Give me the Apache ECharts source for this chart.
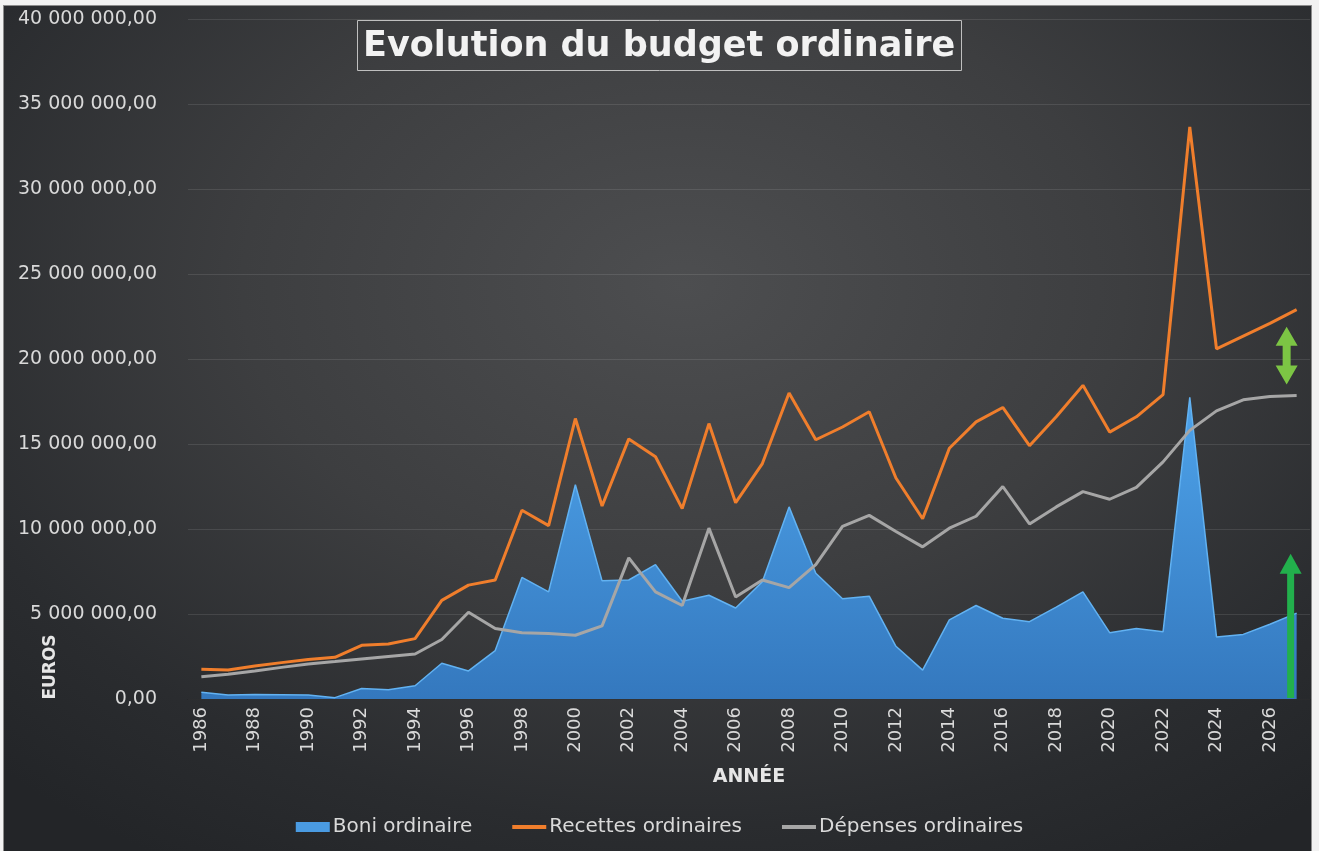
<!DOCTYPE html>
<html>
<head>
<meta charset="utf-8">
<title>Evolution du budget ordinaire</title>
<script src="https://cdn.jsdelivr.net/npm/echarts@6/dist/echarts.min.js"></script>
<style>
  html, body { margin: 0; padding: 0; background: #f2f2f2; }
  .frame {
    position: absolute; left: 3px; top: 5px; width: 1307px; height: 846px;
    border: 1px solid #8c8c8c; border-bottom: none;
    background: radial-gradient(ellipse 75% 80% at 52% 33%, #4d4e50 0%, #3d3e40 45%, #2a2c2f 80%, #232528 100%);
  }
  #chart { position: absolute; left: 0; top: 0; width: 1319px; height: 851px; }
</style>
</head>
<body>
<div class="frame"></div>
<div id="chart"></div>
<script>
// années (catégories)
const annees = ['1986', '1987', '1988', '1989', '1990', '1991', '1992', '1993', '1994', '1995',
  '1996', '1997', '1998', '1999', '2000', '2001', '2002', '2003', '2004', '2005',
  '2006', '2007', '2008', '2009', '2010', '2011', '2012', '2013', '2014', '2015',
  '2016', '2017', '2018', '2019', '2020', '2021', '2022', '2023', '2024', '2025',
  '2026', '2027']

// boni ordinaire (EUR)
const boni = [400000, 240000, 260000, 250000, 240000, 80000, 620000, 550000, 780000, 2100000,
  1650000, 2850000, 7150000, 6300000, 12600000, 6950000, 7000000, 7900000, 5750000, 6100000,
  5350000, 6900000, 11300000, 7400000, 5900000, 6050000, 3100000, 1700000, 4650000, 5500000,
  4750000, 4550000, 5400000, 6300000, 3900000, 4150000, 3950000, 17750000, 3650000, 3800000,
  4400000, 5050000]

// recettes ordinaires (EUR)
const recettes = [1750000, 1700000, 1940000, 2140000, 2330000, 2450000, 3160000, 3240000, 3550000, 5800000,
  6700000, 7000000, 11100000, 10200000, 16500000, 11350000, 15300000, 14250000, 11200000, 16200000,
  11550000, 13850000, 18000000, 15250000, 16000000, 16900000, 13000000, 10600000, 14750000, 16300000,
  17150000, 14900000, 16600000, 18450000, 15700000, 16600000, 17900000, 33650000, 20600000, 21350000,
  22100000, 22900000]

// dépenses ordinaires (EUR)
const depenses = [1310000, 1450000, 1650000, 1860000, 2060000, 2200000, 2350000, 2500000, 2650000, 3500000,
  5100000, 4150000, 3900000, 3850000, 3750000, 4300000, 8300000, 6300000, 5500000, 10050000,
  6000000, 7000000, 6550000, 7900000, 10150000, 10800000, 9850000, 8950000, 10050000, 10750000,
  12500000, 10300000, 11300000, 12200000, 11750000, 12450000, 13950000, 15800000, 16950000, 17600000,
  17800000, 17850000]

const font = 'DejaVu Sans'
const labelColor = '#d9d9d9'
// pas de pastille ronde dans la légende des courbes
const noDot = { color: 'rgba(0,0,0,0)', borderWidth: 0, opacity: 0 }

function euros(v) {
  return Math.round(v).toString().replace(/\B(?=(\d{3})+(?!\d))/g, ' ') + ',00'
}

const chart = echarts.init(document.getElementById('chart'))

chart.setOption({
  backgroundColor: 'transparent',
  animation: false,
  title: {
    text: 'Evolution du budget ordinaire',
    left: 357,
    top: 20,
    padding: [9, 6, 7, 6],
    borderColor: '#bfbfbf',
    borderWidth: 1,
    textStyle: {
      fontFamily: font,
      fontSize: 35,
      fontWeight: 'bold',
      color: '#f2f2f2'
    }
  },
  grid: {
    left: 188,
    right: 9,
    top: 19,
    bottom: 152
  },
  legend: {
    top: 812,
    left: 'center',
    itemWidth: 34,
    itemHeight: 10,
    itemGap: 38,
    lineStyle: { width: 4 },
    textStyle: { fontFamily: font, fontSize: 20, color: labelColor, padding: [0, 0, 0, -2] },
    data: [
      { name: 'Boni ordinaire', icon: 'rect' },
      { name: 'Recettes ordinaires', itemStyle: noDot },
      { name: 'Dépenses ordinaires', itemStyle: noDot }
    ]
  },
  xAxis: {
    type: 'category',
    data: annees,
    boundaryGap: true,
    name: 'ANNÉE',
    nameLocation: 'middle',
    nameGap: 69,
    nameTextStyle: { fontFamily: font, fontSize: 19, fontWeight: 'bold', color: '#e6e6e6' },
    axisTick: { show: false },
    axisLine: { lineStyle: { color: 'rgba(0,0,0,0.3)', width: 1 } },
    axisLabel: {
      interval: 1,
      rotate: 90,
      margin: 8,
      fontFamily: font,
      fontSize: 18,
      color: labelColor
    }
  },
  yAxis: {
    type: 'value',
    min: 0,
    max: 40000000,
    interval: 5000000,
    axisLine: { show: false },
    axisTick: { show: false },
    splitLine: { lineStyle: { color: 'rgba(255,255,255,0.1)', width: 1 } },
    axisLabel: {
      margin: 31,
      fontFamily: font,
      fontSize: 19,
      color: labelColor,
      formatter: euros
    }
  },
  series: [
    {
      name: 'Boni ordinaire',
      type: 'line',
      data: boni,
      symbol: 'none',
      itemStyle: { color: '#4a9be2' },
      lineStyle: { color: '#62b2f2', width: 1.5 },
      areaStyle: {
        opacity: 1,
        color: new echarts.graphic.LinearGradient(0, 0, 0, 1, [
          { offset: 0, color: '#4ea3ea' },
          { offset: 1, color: '#3478be' }
        ])
      }
    },
    {
      name: 'Recettes ordinaires',
      type: 'line',
      data: recettes,
      symbol: 'none',
      itemStyle: { color: '#f07e2c' },
      lineStyle: { color: '#f07e2c', width: 3 }
    },
    {
      name: 'Dépenses ordinaires',
      type: 'line',
      data: depenses,
      symbol: 'none',
      itemStyle: { color: '#a6a6a6' },
      lineStyle: { color: '#a6a6a6', width: 3 }
    }
  ]
})

// annotations: flèches vertes + titre d'axe EUROS
const px = (cat, v) => chart.convertToPixel({ gridIndex: 0 }, [cat, v])
const last = annees[annees.length - 1]

const dx = px(last, 0)[0] - 10
const dTop = px(last, 21900000)[1]
const dBot = px(last, 18500000)[1]
const doubleArrow = [
  [dx, dTop], [dx + 11, dTop + 19], [dx + 4, dTop + 19], [dx + 4, dBot - 19], [dx + 11, dBot - 19],
  [dx, dBot], [dx - 11, dBot - 19], [dx - 4, dBot - 19], [dx - 4, dTop + 19], [dx - 11, dTop + 19]
]

const ux = px(last, 0)[0] - 6
const uTop = px(last, 8550000)[1]
const uBot = px(last, 0)[1] - 1
const upArrow = [
  [ux, uTop], [ux + 11, uTop + 20], [ux + 3.5, uTop + 20], [ux + 3.5, uBot],
  [ux - 3.5, uBot], [ux - 3.5, uTop + 20], [ux - 11, uTop + 20]
]

chart.setOption({
  graphic: [
    {
      type: 'polygon',
      shape: { points: doubleArrow },
      style: { fill: '#7cc544' },
      z: 100
    },
    {
      type: 'polygon',
      shape: { points: upArrow },
      style: { fill: '#22b04c' },
      z: 100
    },
    {
      type: 'text',
      x: 51,
      y: 667,
      rotation: Math.PI / 2,
      style: {
        text: 'EUROS',
        x: 0,
        y: 0,
        align: 'center',
        verticalAlign: 'middle',
        fontFamily: font,
        fontSize: 17,
        fontWeight: 'bold',
        fill: '#e6e6e6'
      }
    }
  ]
})
</script>
</body>
</html>
